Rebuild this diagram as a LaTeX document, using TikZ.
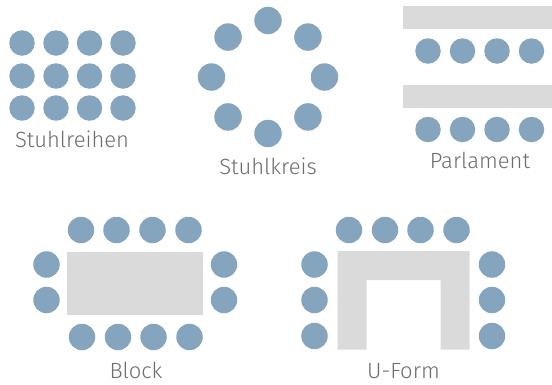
\documentclass[tikz,border=0pt]{standalone}
\usepackage{fontspec}
\setmainfont{Fira Sans}[UprightFont={* Light}]
\usepackage{tikz}
\usetikzlibrary{positioning,calc}
\definecolor{chairblue}{RGB}{133,164,189}
\definecolor{tablegray}{RGB}{218,218,218}
\definecolor{labelgray}{RGB}{108,108,108}
\tikzset{
  chair/.style={circle, fill=chairblue, minimum size=#1, inner sep=0pt},
  chair/.default={25.5pt},
  tablebox/.style={fill=tablegray, draw=none},
  lbl/.style={font=\fontsize{22}{26}\selectfont, text=labelgray, inner sep=0pt, anchor=base}
}

\begin{document}
\begin{tikzpicture}[x=1pt, y=-1pt]
  \useasboundingbox (0,0) rectangle (552,384);
  % Stuhlreihen
  \foreach \r/\y in {1/43,2/76,3/108}
    \foreach \c/\x in {1/22,2/56,3/89.5,4/123}
      \node[chair] (sr\r\c) at (\x,\y) {};
  \node[lbl] (lreihen) at (72,147) {Stuhlreihen};
  % Stuhlkreis
  \foreach \i in {0,...,7}
    \node[chair=27.5pt] (sk\i) at ($(268,77)+(90+\i*45:56.5)$) {};
  \node[lbl] (lkreis) at (268,174) {Stuhlkreis};
  % Parlament
  \fill[tablebox] (402.5,6) rectangle (552,29);
  \fill[tablebox] (402.5,85) rectangle (552,107.5);
  \foreach \c/\x in {1/428,2/462.5,3/497,4/531.5} {
    \node[chair] (pa\c) at (\x,51) {};
    \node[chair] (pb\c) at (\x,129.5) {};
  }
  \node[lbl] (lparl) at (480,168) {Parlament};
  % Block
  \fill[tablebox] (67,252) rectangle (203,314.5);
  \foreach \c/\x in {1/81,2/116.5,3/152.5,4/188.5}
    \node[chair=26.5pt] (bt\c) at (\x,230) {};
  \foreach \c/\x in {1/82,2/118,3/153.5,4/189.5}
    \node[chair=26.5pt] (bb\c) at (\x,337) {};
  \foreach \r/\y in {1/264.5,2/300} {
    \node[chair=26.5pt] (bl\r) at (46.5,\y) {};
    \node[chair=26.5pt] (br\r) at (224,\y) {};
  }
  \node[lbl] (lblock) at (136,378.3) {Block};
  % U-Form
  \fill[tablebox] (337.5,251) -- (469.5,251) -- (469.5,349.5) -- (440.5,349.5)
    -- (440.5,280) -- (366.5,280) -- (366.5,349.5) -- (337.5,349.5) -- cycle;
  \foreach \c/\x in {1/349,2/385,3/420.5,4/456.5}
    \node[chair=26.5pt] (ut\c) at (\x,230) {};
  \foreach \r/\y in {1/264.5,2/300,3/336} {
    \node[chair=26.5pt] (ul\r) at (314.5,\y) {};
    \node[chair=26.5pt] (ur\r) at (492,\y) {};
  }
  \node[lbl] (luform) at (403.5,378.3) {U-Form};
\end{tikzpicture}
\end{document}
